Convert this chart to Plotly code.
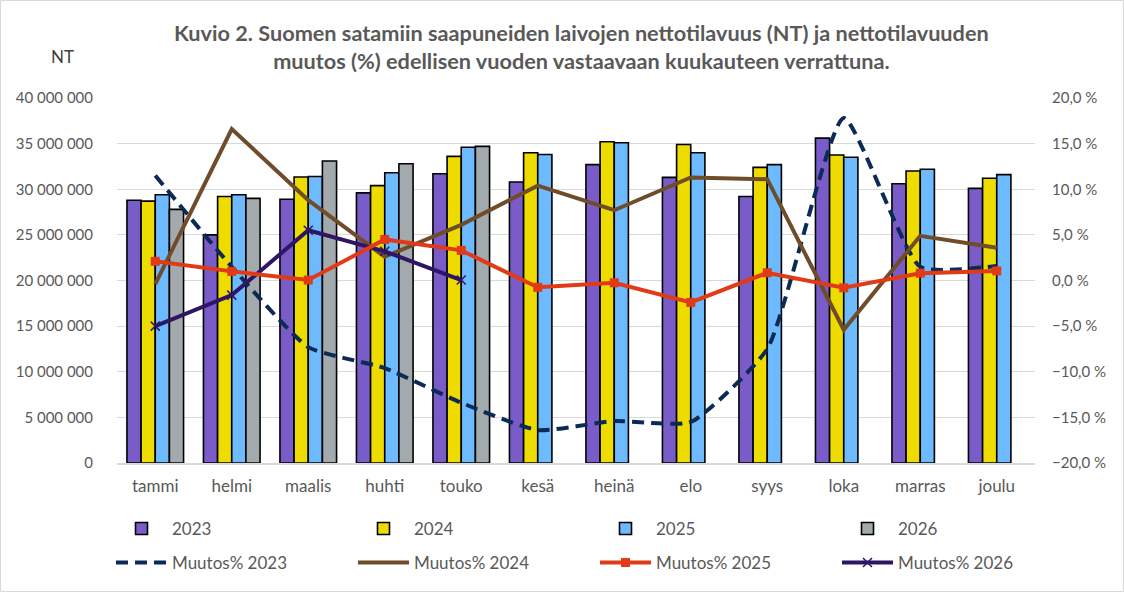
import plotly.graph_objects as go

months = ["tammi", "helmi", "maalis", "huhti", "touko", "kesä", "heinä", "elo", "syys", "loka", "marras", "joulu"]

nt_2023 = [28800000, 25000000, 28900000, 29600000, 31700000, 30800000, 32700000, 31300000, 29200000, 35600000, 30600000, 30100000]
nt_2024 = [28700000, 29200000, 31350000, 30400000, 33600000, 34000000, 35200000, 34900000, 32400000, 33750000, 32000000, 31200000]
nt_2025 = [29400000, 29400000, 31400000, 31800000, 34600000, 33800000, 35100000, 34000000, 32700000, 33500000, 32200000, 31600000]
nt_2026 = [27800000, 29000000, 33100000, 32800000, 34700000, None, None, None, None, None, None, None]

muutos_2023 = [11.5, 1.5, -7.3, -9.6, -13.4, -16.4, -15.4, -15.5, -7.5, 17.8, 1.5, 1.6]
muutos_2024 = [-0.4, 16.6, 8.8, 2.6, 6.1, 10.4, 7.7, 11.3, 11.1, -5.4, 4.9, 3.6]
muutos_2025 = [2.1, 1.0, 0.05, 4.5, 3.3, -0.75, -0.25, -2.4, 0.85, -0.8, 0.8, 1.05]
muutos_2026 = [-5.0, -1.6, 5.5, 3.2, 0.05, None, None, None, None, None, None, None]

bar_series = [("2023", nt_2023, "#7A5CC8"), ("2024", nt_2024, "#EEDC00"),
              ("2025", nt_2025, "#6EBAFF"), ("2026", nt_2026, "#A3AAAD")]

FONT = "Lato, 'Open Sans', sans-serif"
GREY = "#595959"

fig = go.Figure()
for i, (name, vals, col) in enumerate(bar_series):
    fig.add_trace(go.Bar(x=months, y=vals, name=name, showlegend=True,
                         marker=dict(color=col, line=dict(color="#000000", width=1.6)),
                         legend="legend" if i == 0 else f"legend{i + 1}"))

fig.add_trace(go.Scatter(x=months, y=muutos_2023, name="Muutos% 2023", yaxis="y2", mode="lines", showlegend=True,
                         line=dict(color="#0B2A55", width=4, dash="12px,7px", shape="spline", smoothing=0.5),
                         legend="legend5"))
fig.add_trace(go.Scatter(x=months, y=muutos_2024, name="Muutos% 2024", yaxis="y2", mode="lines", showlegend=True,
                         line=dict(color="#704D2A", width=4), legend="legend6"))
fig.add_trace(go.Scatter(x=months, y=muutos_2026, name="Muutos% 2026", yaxis="y2", mode="lines+markers",
                         showlegend=True, line=dict(color="#2E1565", width=4),
                         marker=dict(symbol="x-thin", size=9, line=dict(color="#2E1565", width=1.5)),
                         legend="legend8"))
fig.add_trace(go.Scatter(x=months, y=muutos_2025, name="Muutos% 2025", yaxis="y2", mode="lines+markers",
                         showlegend=True, line=dict(color="#E03A17", width=4),
                         marker=dict(symbol="square", size=9, color="#E03A17"),
                         legend="legend7"))

L, R, T, B = 117, 1035, 98, 463
W, H = 1124, 592
pw, ph = R - L, B - T

col_x = [111, 353, 595, 837]
row_y = [529, 563]
legends = {}
for r in range(2):
    for c in range(4):
        k = r * 4 + c + 1
        key = "legend" if k == 1 else f"legend{k}"
        legends[key] = dict(visible=True, xref="container", yref="container", x=col_x[c] / W, y=1 - row_y[r] / H,
                            xanchor="left", yanchor="middle", itemwidth=51,
                            font=dict(size=17, color=GREY), bgcolor="rgba(0,0,0,0)")

fig.update_layout(
    width=W, height=H,
    showlegend=True,
    margin=dict(l=L, r=W - R, t=T, b=H - B, autoexpand=False),
    paper_bgcolor="white", plot_bgcolor="white",
    separators=", ",
    barmode="group", bargap=0.26, bargroupgap=0,
    font=dict(family=FONT, size=15, color=GREY),
    xaxis=dict(type="category", range=[-0.5, 11.5], showgrid=False, showline=True, linecolor="#D9D9D9",
               linewidth=1.5, ticks="", tickfont=dict(size=17, color=GREY), ticklabelstandoff=7),
    yaxis=dict(range=[0, 40000000], dtick=5000000, tickformat=",d", showgrid=True, gridcolor="#D9D9D9",
               gridwidth=1.3, zeroline=False, ticks="", tickfont=dict(size=15, color=GREY), ticklabelstandoff=23),
    yaxis2=dict(range=[-20, 20], dtick=5, tickformat=".1f", ticksuffix=" %", overlaying="y", side="right",
                showgrid=False, zeroline=False, ticks="", tickfont=dict(size=15, color=GREY), ticklabelstandoff=16),
    annotations=[
        dict(text="<b>Kuvio 2. Suomen satamiin saapuneiden laivojen nettotilavuus (NT) ja nettotilavuuden<br>"
                  "muutos (%) edellisen vuoden vastaavaan kuukauteen verrattuna.</b>",
             x=(581.5 - L) / pw, y=(B - 47) / ph, xref="paper", yref="paper", xanchor="center", yanchor="middle",
             showarrow=False, align="center", font=dict(size=21.7, color=GREY, family=FONT)),
        dict(text="NT", x=(62 - L) / pw, y=(B - 57) / ph, xref="paper", yref="paper", xanchor="center",
             yanchor="middle", showarrow=False, font=dict(size=17, color="#404040", family=FONT)),
    ],
    shapes=[dict(type="rect", xref="paper", yref="paper",
                 x0=(0.5 - L) / pw, x1=(W - 0.5 - L) / pw, y0=(B - (H - 0.5)) / ph, y1=(B - 0.5) / ph,
                 line=dict(color="#D9D9D9", width=1), fillcolor="rgba(0,0,0,0)", layer="below")],
    **legends,
)

fig.write_html("out.html")
